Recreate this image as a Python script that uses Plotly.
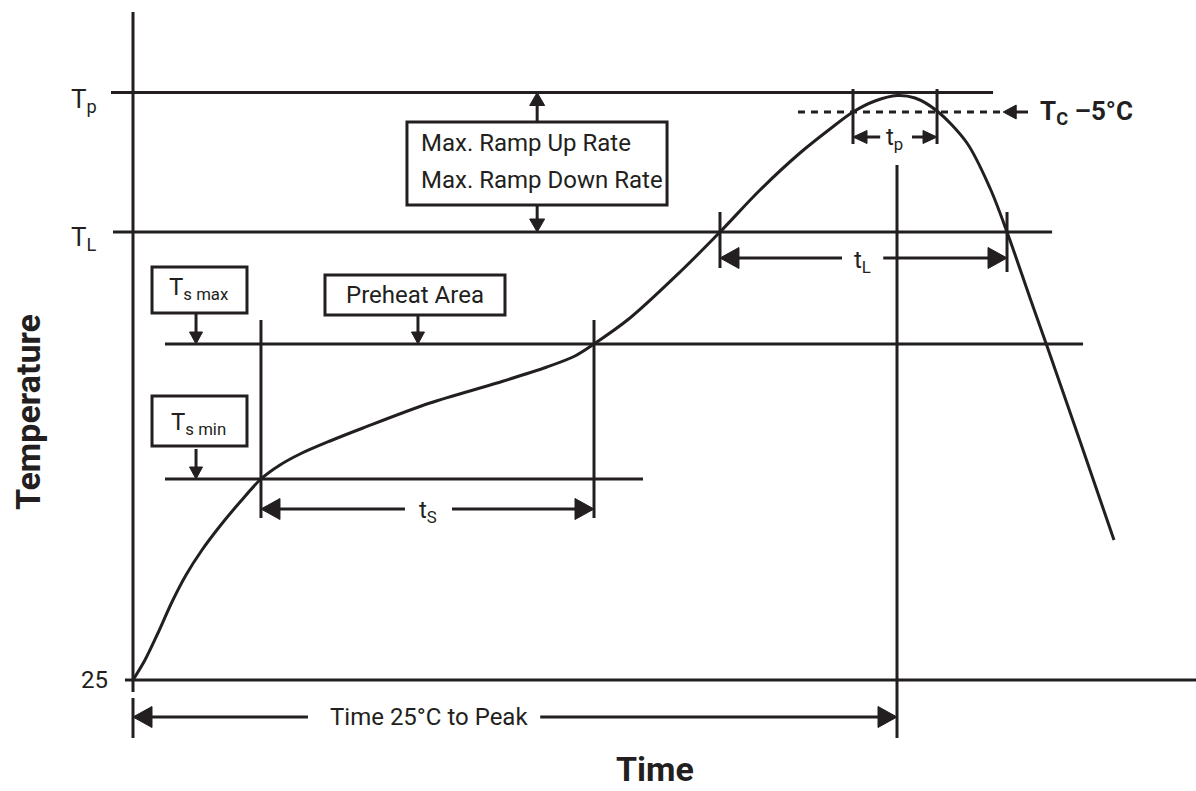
import plotly.graph_objects as go

INK = "#231f20"
FONT = "Roboto, Liberation Sans, sans-serif"

# Schematic reflow profile: time (s) against temperature (°C)
profile_time = [0, 1.57, 3.27, 5.10, 6.94, 9.03, 11.39, 14.01, 16.75, 19.24, 21.86,
                25.79, 30.10, 38.87, 47.64, 54.19, 57.85, 60.34, 65.05, 71.60, 76.83,
                82.07, 87.30, 91.23, 94.24, 97.12, 100, 102.36, 105.24, 109.16, 112.17,
                114.40, 117.41, 119.63, 123.95, 128.40]
profile_temp = [25, 33, 43.8, 56.2, 67, 77, 86.6, 96.2, 105.4, 111, 115.4,
                120.6, 125.8, 135.8, 143.8, 150.2, 154.6, 159.4, 169.8, 188.2, 204.2,
                221, 235.8, 245.4, 252.2, 256.6, 258.8, 257.8, 252.6, 239.8, 221.8,
                204.2, 177.8, 158.6, 120.6, 81]

# Temperature levels
T_AMB = 25
T_SMIN = 105.4
T_SMAX = 159.4
T_L = 204.2
T_C5 = 252.2
T_P = 260

# Event times along the profile
t_smin = 16.75
t_smax = 60.34
t_l_start = 76.83
t_p_start = 94.24
t_peak = 100
t_p_end = 105.24
t_l_end = 114.40

# screen pixels per data unit, used to size arrowheads in pixels
PX_X = 7.64
PX_Y = 2.5

fig = go.Figure()
head_x, head_y = [], []


def hline(y, x0, x1, width=3, dash=None):
    fig.add_shape(type="line", x0=x0, x1=x1, y0=y, y1=y, layer="below",
                  line=dict(color=INK, width=width, dash=dash))


def vline(x, y0, y1, width=3):
    fig.add_shape(type="line", x0=x, x1=x, y0=y0, y1=y1, layer="below",
                  line=dict(color=INK, width=width))


def box(x0, x1, y0, y1):
    fig.add_shape(type="rect", x0=x0, x1=x1, y0=y0, y1=y1, layer="below",
                  line=dict(color=INK, width=3), fillcolor="white")


def arrow(x_tip, y_tip, x_tail, y_tail, length=15, width=15):
    """Shaft from tail to tip with a filled triangular head at the tip."""
    if y_tip == y_tail:  # horizontal
        sign = 1 if x_tip > x_tail else -1
        bx = x_tip - sign * length / PX_X
        hw = width / 2 / PX_Y
        head_x.extend([x_tip, bx, bx, x_tip, None])
        head_y.extend([y_tip, y_tip + hw, y_tip - hw, y_tip, None])
        hline(y_tip, x_tail, bx + sign * 2 / PX_X)
    else:  # vertical
        sign = 1 if y_tip > y_tail else -1
        by = y_tip - sign * length / PX_Y
        hw = width / 2 / PX_X
        head_x.extend([x_tip, x_tip + hw, x_tip - hw, x_tip, None])
        head_y.extend([y_tip, by, by, y_tip, None])
        vline(x_tip, y_tail, by + sign * 2 / PX_Y)


def label(x, y, text, size=24, xanchor="center", yanchor="middle", angle=0):
    fig.add_annotation(x=x, y=y, text=text, showarrow=False, xanchor=xanchor,
                       yanchor=yanchor, textangle=angle,
                       font=dict(family=FONT, size=size, color=INK))


# axes
vline(0, 20.2, 292.2)
hline(T_AMB, -1.05, 140)

# temperature levels
hline(T_P, -2.88, 112.57)
hline(T_L, -2.62, 120.3)
hline(T_SMAX, 4.19, 124.35)
hline(T_SMIN, 4.19, 66.75)
hline(T_C5, 87.04, 113.48, dash="7px,6px")

# interval brackets
vline(t_smin, 89.8, 169)
vline(t_smax, 89.8, 169)
vline(t_l_start, 189.8, 212.2)
vline(t_l_end, 188.2, 212.2)
vline(t_p_start, 239.4, 261.4)
vline(t_p_end, 239.4, 261.4)
vline(t_peak, 1.8, 231)
vline(0, 1.8, 17.8)

# boxed labels
box(35.86, 69.9, 215, 248.2)
box(25.13, 48.69, 171, 187)
box(2.49, 14.92, 171.8, 190.2)
box(2.49, 14.92, 118.6, 138.6)

label(37.43, 239.8, "Max. Ramp Up Rate", xanchor="left")
label(37.43, 225.0, "Max. Ramp Down Rate", xanchor="left")
label(36.9, 179, "Preheat Area")
label(8.6, 181.5, "T<sub>s max</sub>")
label(8.6, 127.8, "T<sub>s min</sub>")

# pointer arrows
arrow(52.9, T_P, 52.9, 248.2, 13, 15)
arrow(52.9, T_L, 52.9, 215, 13, 15)
arrow(8.25, T_SMAX, 8.25, 171.8, 12, 13)
arrow(37.3, T_SMAX, 37.3, 171, 12, 13)
arrow(8.25, T_SMIN, 8.25, 117.4, 12, 13)
arrow(113.9, T_C5, 117.15, T_C5, 13, 14)

# interval arrows
arrow(t_smin, 93.4, 35.6, 93.4, 19, 21)
arrow(t_smax, 93.4, 41.75, 93.4, 19, 21)
label(38.6, 92.5, "t<sub>S</sub>")
arrow(t_l_start, 193.8, 92.8, 193.8, 19, 21)
arrow(t_l_end, 193.8, 98.2, 193.8, 19, 21)
label(95.5, 192.5, "t<sub>L</sub>")
arrow(t_p_start, 242.2, 97.8, 242.2, 14, 13)
arrow(t_p_end, 242.2, 101.96, 242.2, 14, 13)
label(99.7, 241.5, "t<sub>p</sub>")
arrow(0, 10.2, 22.9, 10.2, 19, 21)
arrow(t_peak, 10.2, 53.3, 10.2, 19, 21)
label(38.7, 10.2, "Time 25°C to Peak")

# arrowheads
fig.add_trace(go.Scatter(x=head_x, y=head_y, mode="lines", fill="toself",
                         fillcolor=INK, line=dict(color=INK, width=1),
                         hoverinfo="skip"))

# profile curve
fig.add_trace(go.Scatter(x=profile_time, y=profile_temp, mode="lines", hoverinfo="skip",
                         line=dict(color=INK, width=3, shape="spline", smoothing=0.9)))

# level labels
label(-3.0, T_AMB, "25", xanchor="right")
label(-8.4, 257.0, "T<sub>p</sub>", size=26, xanchor="left")
label(-8.4, 201.5, "T<sub>L</sub>", size=26, xanchor="left")
label(118.5, T_C5, "<b>T<sub>C</sub> –5°C</b>", size=26, xanchor="left")

# axis titles
label(-13.74, 132.2, "<b>Temperature</b>", size=34, angle=-90)
label(68.3, -10.6, "<b>Time</b>", size=34)

fig.update_layout(
    width=1196, height=791, margin=dict(l=0, r=0, t=0, b=0),
    paper_bgcolor="white", plot_bgcolor="white", showlegend=False,
    xaxis=dict(range=[-133 / PX_X, 1063 / PX_X], visible=False, fixedrange=True),
    yaxis=dict(range=[297 - 791 / PX_Y, 297], visible=False, fixedrange=True),
)

fig.write_html("out.html")
